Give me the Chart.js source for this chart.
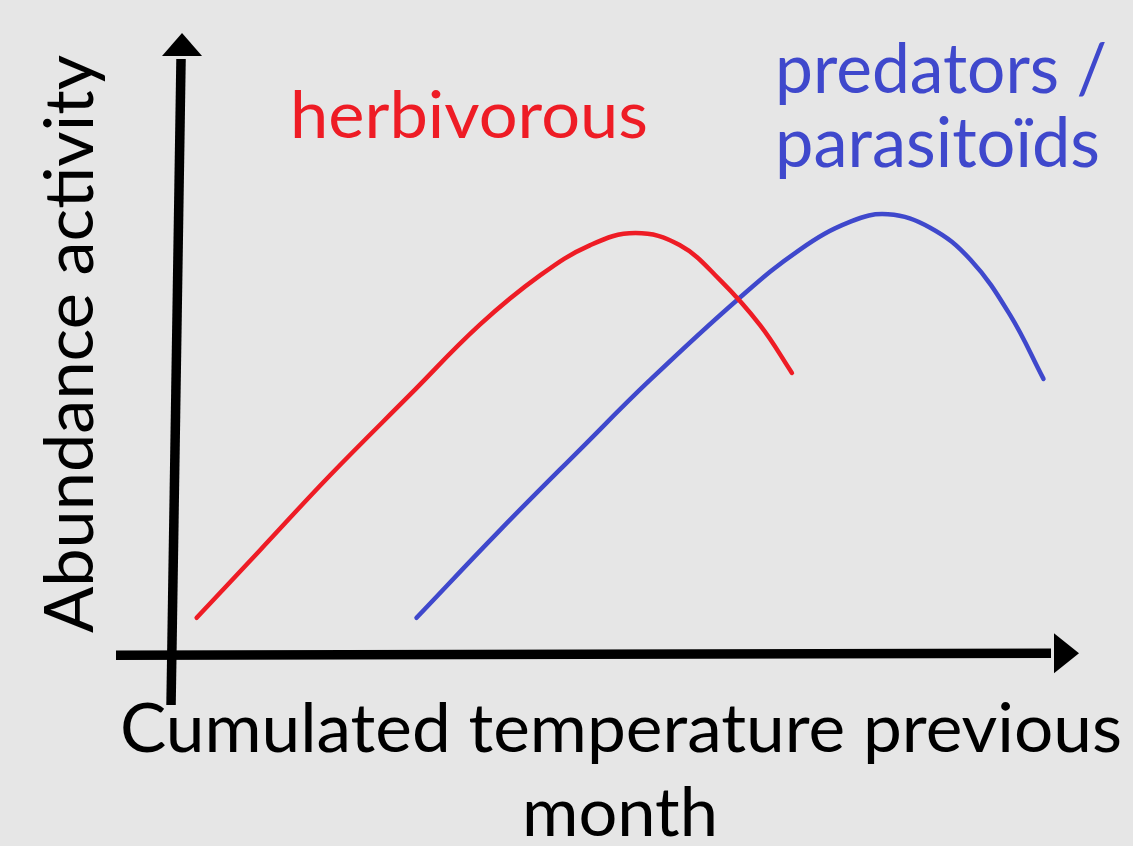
<!DOCTYPE html>
<html>
<head>
<meta charset="utf-8">
<script src="https://cdn.jsdelivr.net/npm/chart.js@4.4.0/dist/chart.umd.min.js"></script>
<style>
  html, body { margin: 0; padding: 0; background: #e6e6e6; }
  #wrap { width: 1133px; height: 846px; position: relative; }
</style>
</head>
<body>
<div id="wrap"><canvas id="chart_curves"></canvas></div>
<script>
// conceptual curves (arbitrary units)
const herbX = [2.2, 8.8, 16.1, 24.4, 31.7, 38.0, 43.2, 47.9, 52.5, 56.7, 60.9, 64.2];
const herbY = [5.6, 15.7, 26.9, 38.9, 49.4, 56.8, 61.3, 63.1, 61.3, 56.1, 49.3, 42.2];
const predX = [25.1, 33.8, 42.1, 49.4, 58.5, 65.0, 70.3, 74.2, 78.6, 82.8, 86.9, 90.4];
const predY = [5.6, 18.7, 30.7, 41.1, 53.1, 60.6, 64.8, 65.9, 63.9, 59.1, 50.9, 41.3];

const seriesNames = ["herbivorous", ["predators /", "parasitoïds"]];
const xTitle = ["Cumulated temperature previous", "month"];
const yTitle = "Abundance activity";

const RED = "#ee1c25";
const BLUE = "#3f48cc";
const FONT = "Lato, 'Open Sans', sans-serif";

function pts(xs, ys) {
  return xs.map(function (x, i) { return { x: x, y: ys[i] }; });
}

// draw text squeezed/stretched to a given width
function fitText(ctx, txt, x, y, size, width, color) {
  ctx.save();
  ctx.font = size + "px " + FONT;
  ctx.fillStyle = color;
  ctx.textAlign = "left";
  ctx.textBaseline = "alphabetic";
  const w = ctx.measureText(txt).width;
  ctx.translate(x, y);
  ctx.scale(width / w, 1);
  ctx.fillText(txt, 0, 0);
  ctx.restore();
}

const decor = {
  id: "decor",
  beforeDraw: function (chart) {
    const ctx = chart.ctx;
    ctx.save();
    ctx.fillStyle = "#e6e6e6";
    ctx.fillRect(0, 0, chart.width, chart.height);
    ctx.restore();
  },
  afterDatasetsDraw: function (chart) {
    const ctx = chart.ctx;
    const xs = chart.scales.x, ys = chart.scales.y;
    const a = chart.chartArea;
    const y0 = ys.getPixelForValue(0);
    const x0 = xs.getPixelForValue(0);

    ctx.save();
    ctx.strokeStyle = "#000";
    ctx.fillStyle = "#000";
    ctx.lineCap = "butt";

    // x axis
    ctx.lineWidth = 9.5;
    ctx.beginPath();
    ctx.moveTo(a.left, y0);
    ctx.lineTo(a.right - 28, y0 - 2);
    ctx.stroke();
    ctx.beginPath();
    ctx.moveTo(a.right, y0 - 2);
    ctx.lineTo(a.right - 25, y0 - 22);
    ctx.lineTo(a.right - 25, y0 + 18);
    ctx.closePath();
    ctx.fill();

    // y axis (slightly tilted, as drawn by hand)
    ctx.beginPath();
    ctx.moveTo(x0 - 4.5, a.bottom);
    ctx.lineTo(x0 + 5.5, a.top + 26);
    ctx.stroke();
    ctx.beginPath();
    ctx.moveTo(x0 + 6.5, a.top);
    ctx.lineTo(x0 - 13.5, a.top + 23);
    ctx.lineTo(x0 + 26.5, a.top + 23);
    ctx.closePath();
    ctx.fill();
    ctx.restore();

    // series labels
    fitText(ctx, seriesNames[0], 290, 138, 66, 358, RED);
    fitText(ctx, seriesNames[1][0], 775, 93, 70, 332, BLUE);
    fitText(ctx, seriesNames[1][1], 775, 167, 70, 325, BLUE);

    // axis titles
    fitText(ctx, xTitle[0], 120, 752, 68, 1002, "#000");
    fitText(ctx, xTitle[1], 522, 836, 68, 196, "#000");
    ctx.save();
    ctx.translate(93, 633);
    ctx.rotate(-Math.PI / 2);
    fitText(ctx, yTitle, 0, 0, 68, 578, "#000");
    ctx.restore();
  }
};

const config = {
  type: "scatter",
  data: {
    datasets: [
      {
        label: "herbivorous",
        data: pts(herbX, herbY),
        showLine: true,
        borderColor: RED,
        borderWidth: 4.5,
        pointRadius: 0,
        tension: 0.4,
        borderCapStyle: "round"
      },
      {
        label: "predators / parasitoïds",
        data: pts(predX, predY),
        showLine: true,
        borderColor: BLUE,
        borderWidth: 4.5,
        pointRadius: 0,
        tension: 0.4,
        borderCapStyle: "round"
      }
    ]
  },
  options: {
    responsive: true,
    maintainAspectRatio: false,
    animation: false,
    layout: { padding: { left: 116, right: 54, top: 33, bottom: 141 } },
    plugins: { legend: { display: false }, tooltip: { enabled: false } },
    scales: {
      x: { type: "linear", min: -6.2, max: 94.1, display: false },
      y: { type: "linear", min: -7.44, max: 93, display: false }
    }
  },
  plugins: [decor]
};

var myChart = new Chart(document.getElementById("chart_curves"), config);
</script>
</body>
</html>
